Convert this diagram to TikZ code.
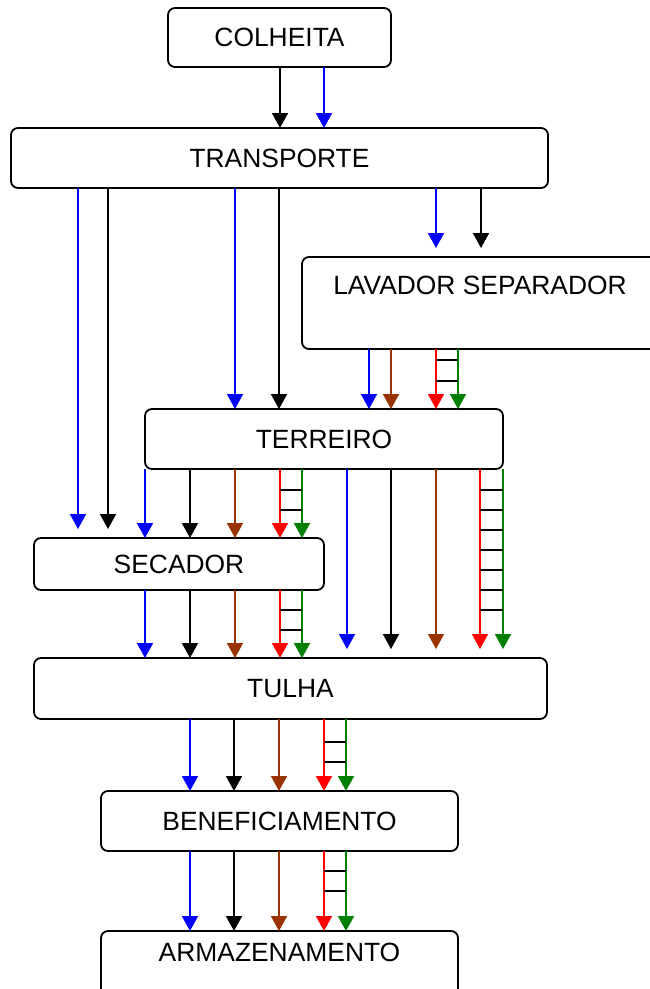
\documentclass[tikz,border=0pt]{standalone}
\usepackage{fontspec}
\setmainfont{Liberation Sans}
\usetikzlibrary{arrows.meta}
\definecolor{cblue}{RGB}{0,0,255}
\definecolor{cbrown}{RGB}{153,51,0}
\definecolor{cred}{RGB}{255,0,0}
\definecolor{cgreen}{RGB}{0,128,0}
\newcommand\arrdown[4]{\draw[flow,#1] (#2,0 |- #3) -- (#2,0 |- #4);}
\newcommand\rungs[3]{\foreach \yy in {#3} {\draw[rung] (#1,\yy) -- (#2,\yy);}}
\begin{document}
\begin{tikzpicture}[x=1pt,y=-1pt,
 box/.style={draw=black,line width=1.8pt,rounded corners=7pt,fill=white,inner sep=0pt,outer sep=0pt,font=\fontsize{26.4}{30}\selectfont},
 lbl/.style={inner sep=0pt,font=\fontsize{26.4}{30}\selectfont},
 flow/.style={line width=1.8pt,-{Triangle[width=16pt,length=15pt]}},
 rung/.style={draw=black,line width=1.8pt}]
\useasboundingbox (0,0) rectangle (650,989);
\clip (0,0) rectangle (650,989);

\node[box,minimum width=223pt,minimum height=59pt] (colheita) at (279.5,37.5) {COLHEITA};
\node[box,minimum width=537pt,minimum height=60pt] (transporte) at (279.5,158) {TRANSPORTE};
\node[box,minimum width=418pt,minimum height=92pt] (lavador) at (511,303) {};
\node[lbl] (lavadorlbl) at (480,285) {LAVADOR SEPARADOR};
\node[box,minimum width=358pt,minimum height=60pt] (terreiro) at (324,439) {TERREIRO};
\node[box,minimum width=290pt,minimum height=52pt] (secador) at (179,564) {SECADOR};
\node[box,minimum width=513pt,minimum height=61pt] (tulha) at (290.5,688.5) {TULHA};
\node[box,minimum width=357pt,minimum height=60pt] (benef) at (279.5,821) {BENEFICIAMENTO};
\node[box,minimum width=357pt,minimum height=89pt] (armaz) at (279.5,975.5) {};
\node[lbl] (armazlbl) at (279.5,952) {ARMAZENAMENTO};

\coordinate (lavgap) at ([yshift=9pt]lavador.north);
\coordinate (secgap) at ([yshift=9pt]secador.north);
\coordinate (tulgap) at ([yshift=9pt]tulha.north);

% COLHEITA -> TRANSPORTE
\arrdown{black}{280}{colheita.south}{transporte.north}
\arrdown{cblue}{324}{colheita.south}{transporte.north}

% TRANSPORTE -> SECADOR / TERREIRO / LAVADOR
\arrdown{cblue}{78}{transporte.south}{secgap}
\arrdown{black}{108}{transporte.south}{secgap}
\arrdown{cblue}{235}{transporte.south}{terreiro.north}
\arrdown{black}{279}{transporte.south}{terreiro.north}
\arrdown{cblue}{436}{transporte.south}{lavgap}
\arrdown{black}{481}{transporte.south}{lavgap}

% LAVADOR -> TERREIRO
\arrdown{cblue}{369}{lavador.south}{terreiro.north}
\arrdown{cbrown}{391}{lavador.south}{terreiro.north}
\arrdown{cred}{436}{lavador.south}{terreiro.north}
\arrdown{cgreen}{458}{lavador.south}{terreiro.north}
\rungs{436}{458}{360,381}

% TERREIRO -> SECADOR
\arrdown{cblue}{145}{terreiro.south}{secador.north}
\arrdown{black}{190}{terreiro.south}{secador.north}
\arrdown{cbrown}{235}{terreiro.south}{secador.north}
\arrdown{cred}{280}{terreiro.south}{secador.north}
\arrdown{cgreen}{302}{terreiro.south}{secador.north}
\rungs{280}{302}{490,510}

% TERREIRO -> TULHA
\arrdown{cblue}{347}{terreiro.south}{tulgap}
\arrdown{black}{391}{terreiro.south}{tulgap}
\arrdown{cbrown}{436}{terreiro.south}{tulgap}
\arrdown{cred}{480}{terreiro.south}{tulgap}
\arrdown{cgreen}{503}{terreiro.south}{tulgap}
\rungs{480}{503}{490,510,530,550,570,590,610}

% SECADOR -> TULHA
\arrdown{cblue}{145}{secador.south}{tulha.north}
\arrdown{black}{190}{secador.south}{tulha.north}
\arrdown{cbrown}{235}{secador.south}{tulha.north}
\arrdown{cred}{280}{secador.south}{tulha.north}
\arrdown{cgreen}{302}{secador.south}{tulha.north}
\rungs{280}{302}{610,630}

% TULHA -> BENEFICIAMENTO
\arrdown{cblue}{190}{tulha.south}{benef.north}
\arrdown{black}{234}{tulha.south}{benef.north}
\arrdown{cbrown}{279}{tulha.south}{benef.north}
\arrdown{cred}{324}{tulha.south}{benef.north}
\arrdown{cgreen}{346}{tulha.south}{benef.north}
\rungs{324}{346}{742,762}

% BENEFICIAMENTO -> ARMAZENAMENTO
\arrdown{cblue}{190}{benef.south}{armaz.north}
\arrdown{black}{234}{benef.south}{armaz.north}
\arrdown{cbrown}{279}{benef.south}{armaz.north}
\arrdown{cred}{324}{benef.south}{armaz.north}
\arrdown{cgreen}{346}{benef.south}{armaz.north}
\rungs{324}{346}{871,891}
\end{tikzpicture}
\end{document}
